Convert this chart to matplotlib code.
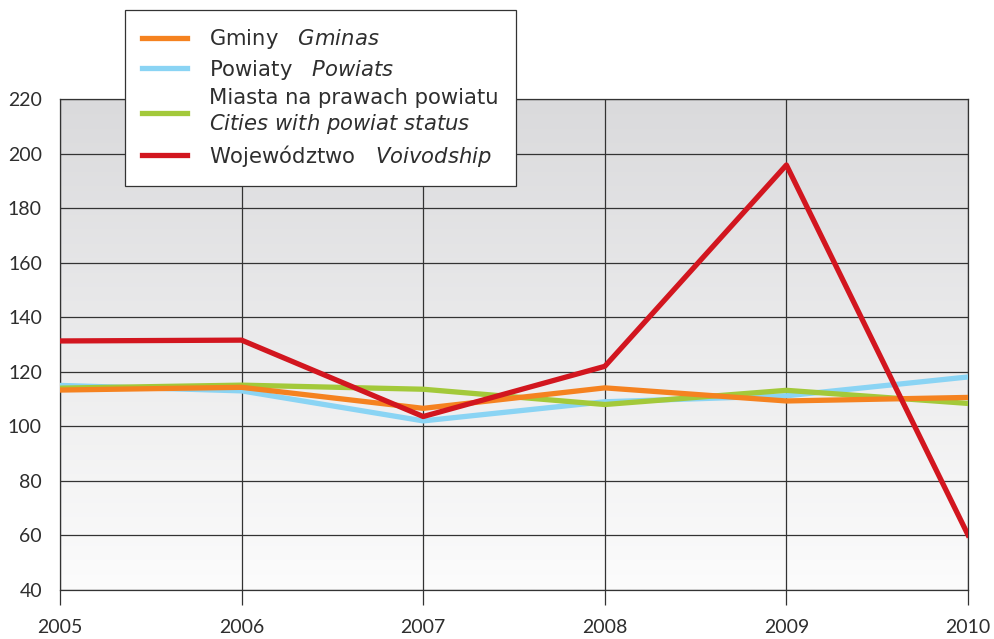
import numpy as np
import matplotlib.pyplot as plt
from matplotlib.lines import Line2D
from matplotlib.colors import LinearSegmentedColormap

plt.rcParams['font.family'] = ['Lato', 'DejaVu Sans']
plt.rcParams['mathtext.fontset'] = 'custom'
plt.rcParams['mathtext.rm'] = 'DejaVu Sans'
plt.rcParams['mathtext.it'] = 'DejaVu Sans:italic'

# dane
years = [2005, 2006, 2007, 2008, 2009, 2010]
gminy = [113.3, 114.3, 106.6, 114.1, 109.3, 110.6]
powiaty = [115.0, 113.0, 102.0, 109.0, 111.2, 118.1]
miasta = [114.0, 115.1, 113.6, 108.0, 113.2, 108.4]
wojewodztwo = [131.3, 131.6, 103.6, 122.0, 195.8, 60.2]

colors = {'g': '#F58220', 'p': '#8AD4F4', 'm': '#A3C93A', 'w': '#D2161F'}
txt = '#2e2e2e'

fig = plt.figure(figsize=(9.95, 6.39), dpi=100)
ax = fig.add_axes([60/995, 49/639, 908/995, 491/639])

# tlo - gradient (dol jasny, gora szara)
grad = np.linspace(0, 1, 256).reshape(-1, 1)
bg = LinearSegmentedColormap.from_list('bg', ['#fcfcfc', '#dadadc'])
ax.imshow(grad, extent=[2005, 2010, 40, 220], aspect='auto', cmap=bg,
          vmin=0, vmax=1, origin='lower', zorder=0)

ax.plot(years, powiaty, color=colors['p'], lw=3.8, zorder=3)
ax.plot(years, miasta, color=colors['m'], lw=3.8, zorder=4)
ax.plot(years, gminy, color=colors['g'], lw=3.8, zorder=5)
ax.plot(years, wojewodztwo, color=colors['w'], lw=3.8, zorder=6)

ax.set_xlim(2005, 2010)
ax.set_ylim(40, 220)
ax.set_xticks(years)
ax.set_yticks(range(40, 221, 20))
ax.grid(True, color='#333333', lw=0.9, zorder=2)
for s in ax.spines.values():
    s.set_color('#333333')
    s.set_linewidth(0.9)
ax.tick_params(axis='x', length=11, width=0.9, color='#333333', pad=10,
               labelsize=14, labelcolor=txt)
ax.tick_params(axis='y', length=0, pad=13, labelsize=14, labelcolor=txt)

handles = [Line2D([], [], color=colors[k], lw=3.8) for k in ['g', 'p', 'm', 'w']]
labels = [r'Gminy   $\it{Gminas}$',
          r'Powiaty   $\it{Powiats}$',
          'Miasta na prawach powiatu\n' + r'$\it{Cities\ with\ powiat\ status}$',
          r'Województwo   $\it{Voivodship}$']
leg = ax.legend(handles, labels, loc='upper left', prop={'family': 'DejaVu Sans', 'size': 15.2},
                bbox_to_anchor=(125/995, 1 - 10/639), bbox_transform=fig.transFigure,
                borderaxespad=0, handlelength=2.15, handletextpad=1.05,
                borderpad=0.8, labelspacing=0.32, fancybox=False, framealpha=1,
                edgecolor='#333333', labelcolor=txt)
leg.get_frame().set_linewidth(0.9)
leg.set_zorder(10)

fig.savefig('out.png', dpi=100)
